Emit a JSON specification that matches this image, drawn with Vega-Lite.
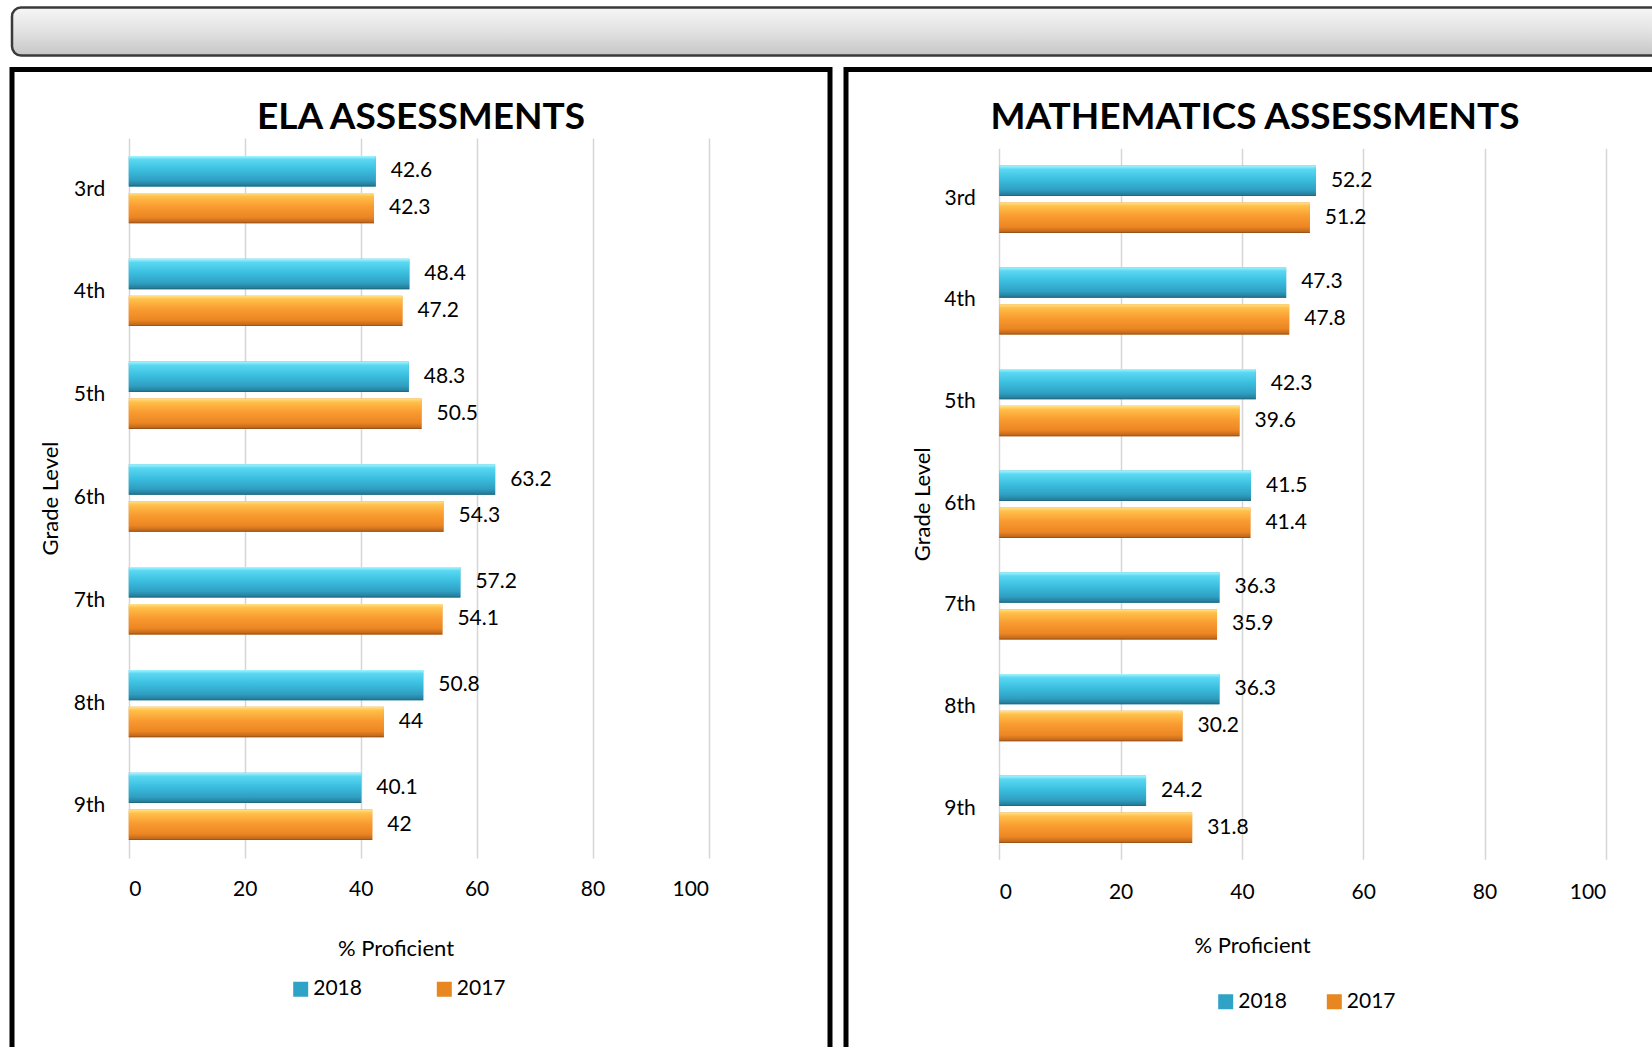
{
  "$schema": "https://vega.github.io/schema/vega-lite/v6.json",
  "padding": {"left": 9, "top": 5.5, "right": 0, "bottom": 0},
  "background": "white",
  "config": {
    "font": "Lato",
    "view": {"stroke": null},
    "axis": {"labelFont": "Lato", "titleFont": "Lato", "labelColor": "#000000", "titleColor": "#000000", "titleFontWeight": "normal", "labelFontSize": 21, "titleFontSize": 22},
    "legend": {"labelFont": "Lato", "labelColor": "#000000", "labelFontSize": 21},
    "title": {"font": "Lato", "fontSize": 37, "fontWeight": "bold", "color": "#000000"}
  },
  "datasets": {
    "ela": [
      {"grade": "3rd", "year": "2018", "value": 42.6}, {"grade": "3rd", "year": "2017", "value": 42.3},
      {"grade": "4th", "year": "2018", "value": 48.4}, {"grade": "4th", "year": "2017", "value": 47.2},
      {"grade": "5th", "year": "2018", "value": 48.3}, {"grade": "5th", "year": "2017", "value": 50.5},
      {"grade": "6th", "year": "2018", "value": 63.2}, {"grade": "6th", "year": "2017", "value": 54.3},
      {"grade": "7th", "year": "2018", "value": 57.2}, {"grade": "7th", "year": "2017", "value": 54.1},
      {"grade": "8th", "year": "2018", "value": 50.8}, {"grade": "8th", "year": "2017", "value": 44},
      {"grade": "9th", "year": "2018", "value": 40.1}, {"grade": "9th", "year": "2017", "value": 42}
    ],
    "math": [
      {"grade": "3rd", "year": "2018", "value": 52.2}, {"grade": "3rd", "year": "2017", "value": 51.2},
      {"grade": "4th", "year": "2018", "value": 47.3}, {"grade": "4th", "year": "2017", "value": 47.8},
      {"grade": "5th", "year": "2018", "value": 42.3}, {"grade": "5th", "year": "2017", "value": 39.6},
      {"grade": "6th", "year": "2018", "value": 41.5}, {"grade": "6th", "year": "2017", "value": 41.4},
      {"grade": "7th", "year": "2018", "value": 36.3}, {"grade": "7th", "year": "2017", "value": 35.9},
      {"grade": "8th", "year": "2018", "value": 36.3}, {"grade": "8th", "year": "2017", "value": 30.2},
      {"grade": "9th", "year": "2018", "value": 24.2}, {"grade": "9th", "year": "2017", "value": 31.8}
    ]
  },
  "spacing": 9,
  "vconcat": [
    {
      "width": 1660,
      "height": 48,
      "view": {
        "stroke": "#3a3a3a",
        "strokeWidth": 2.5,
        "cornerRadius": 9,
        "fill": {"gradient": "linear", "x1": 0, "y1": 0, "x2": 0, "y2": 1, "stops": [{"offset": 0, "color": "#f6f6f6"}, {"offset": 0.5, "color": "#e2e2e2"}, {"offset": 1, "color": "#c6c6c6"}]}
      },
      "data": {"values": [{"t": ""}]},
      "mark": {"type": "text"},
      "encoding": {"text": {"field": "t", "type": "nominal"}}
    },
    {
      "spacing": 10,
      "resolve": {"scale": {"color": "independent"}, "legend": {"color": "independent"}},
      "hconcat": [
        {
          "width": 818,
          "height": 1000,
          "view": {"stroke": "#000000", "strokeWidth": 5},
          "title": {"text": "ELA ASSESSMENTS", "anchor": "middle", "frame": "group", "baseline": "alphabetic", "offset": -96},
          "data": {"name": "ela"},
          "encoding": {
            "y": {
              "field": "grade", "type": "nominal",
              "sort": ["3rd", "4th", "5th", "6th", "7th", "8th", "9th"],
              "scale": {"range": [68.5, 788.5], "paddingInner": 0.345, "paddingOuter": 0.175},
              "axis": {"title": "Grade Level", "orient": "left", "offset": -116.8, "domain": false, "ticks": false, "tickSize": 0, "labelPadding": 24, "titleX": -78.3, "titleBaseline": "middle", "titleAngle": -90}
            },
            "yOffset": {"field": "year", "type": "nominal", "scale": {"domain": ["2018", "2017"], "paddingInner": 0.176}},
            "x": {"field": "value", "type": "quantitative", "scale": {"domain": [0, 100], "range": [116.8, 696.5], "nice": false}}
          },
          "layer": [
            {
              "mark": {"type": "bar"},
              "encoding": {
                "x": {
                  "field": "value", "type": "quantitative",
                  "axis": {"orient": "top", "grid": true, "labels": false, "ticks": false, "domain": false, "title": null, "values": [0, 20, 40, 60, 80, 100], "gridColor": "#d6d6d6", "gridWidth": 1.5}
                },
                "color": {
                  "field": "year", "type": "nominal",
                  "scale": {"domain": ["2018", "2017"], "range": ["#2fa3c6", "#e8861f"]},
                  "legend": {"title": null, "orient": "none", "legendX": 278.2, "legendY": 909, "direction": "horizontal", "symbolType": "square", "symbolSize": 225, "symbolStrokeWidth": 0, "symbolOpacity": 1, "labelOffset": 2, "columnPadding": 71.6, "padding": 0}
                }
              }
            },
            {
              "transform": [{"filter": "datum.year == '2018'"}],
              "mark": {"type": "bar", "fill": {"gradient": "linear", "x1": 0, "y1": 0, "x2": 0, "y2": 1, "stops": [{"offset": 0, "color": "#a6f6ff"}, {"offset": 0.12, "color": "#5ad8f2"}, {"offset": 0.45, "color": "#3bbfe0"}, {"offset": 0.8, "color": "#2f9fc2"}, {"offset": 0.95, "color": "#267f9c"}, {"offset": 1, "color": "#1d5f75"}]}}
            },
            {
              "transform": [{"filter": "datum.year == '2017'"}],
              "mark": {"type": "bar", "fill": {"gradient": "linear", "x1": 0, "y1": 0, "x2": 0, "y2": 1, "stops": [{"offset": 0, "color": "#ffe38a"}, {"offset": 0.12, "color": "#ffc04a"}, {"offset": 0.45, "color": "#f99b30"}, {"offset": 0.8, "color": "#ec8623"}, {"offset": 0.95, "color": "#c46a1c"}, {"offset": 1, "color": "#8a4a16"}]}}
            },
            {
              "mark": {"type": "text", "align": "left", "baseline": "middle", "dx": 15, "fontSize": 21, "color": "#000000", "font": "Lato"},
              "encoding": {
                "x": {
                  "field": "value", "type": "quantitative",
                  "axis": {"orient": "bottom", "grid": false, "offset": -211.5, "values": [0, 20, 40, 60, 80, 100], "labelPadding": 20, "ticks": false, "tickSize": 0, "domain": false, "title": "% Proficient", "titleX": 383.5, "titleY": 90, "titleBaseline": "middle"}
                },
                "text": {"field": "value", "type": "quantitative"}
              }
            }
          ],
          "resolve": {"axis": {"x": "independent"}}
        },
        {
          "width": 818,
          "height": 1000,
          "view": {"stroke": "#000000", "strokeWidth": 5},
          "title": {"text": "MATHEMATICS ASSESSMENTS", "anchor": "middle", "frame": "group", "baseline": "alphabetic", "offset": -96},
          "data": {"name": "math"},
          "encoding": {
            "y": {
              "field": "grade", "type": "nominal",
              "sort": ["3rd", "4th", "5th", "6th", "7th", "8th", "9th"],
              "scale": {"range": [78.8, 789.8], "paddingInner": 0.347, "paddingOuter": 0.17},
              "axis": {"title": "Grade Level", "orient": "left", "offset": -153.3, "domain": false, "ticks": false, "tickSize": 0, "labelPadding": 24, "titleX": -77.3, "titleBaseline": "middle", "titleAngle": -90}
            },
            "yOffset": {"field": "year", "type": "nominal", "scale": {"domain": ["2018", "2017"], "paddingInner": 0.176}},
            "x": {"field": "value", "type": "quantitative", "scale": {"domain": [0, 100], "range": [153.3, 759.8], "nice": false}}
          },
          "layer": [
            {
              "mark": {"type": "bar"},
              "encoding": {
                "x": {
                  "field": "value", "type": "quantitative",
                  "axis": {"orient": "top", "grid": true, "labels": false, "ticks": false, "domain": false, "title": null, "values": [0, 20, 40, 60, 80, 100], "gridColor": "#d6d6d6", "gridWidth": 1.5}
                },
                "color": {
                  "field": "year", "type": "nominal",
                  "scale": {"domain": ["2018", "2017"], "range": ["#2fa3c6", "#e8861f"]},
                  "legend": {"title": null, "orient": "none", "legendX": 369.2, "legendY": 921.5, "direction": "horizontal", "symbolType": "square", "symbolSize": 225, "symbolStrokeWidth": 0, "symbolOpacity": 1, "labelOffset": 2, "columnPadding": 36.6, "padding": 0}
                }
              }
            },
            {
              "transform": [{"filter": "datum.year == '2018'"}],
              "mark": {"type": "bar", "fill": {"gradient": "linear", "x1": 0, "y1": 0, "x2": 0, "y2": 1, "stops": [{"offset": 0, "color": "#a6f6ff"}, {"offset": 0.12, "color": "#5ad8f2"}, {"offset": 0.45, "color": "#3bbfe0"}, {"offset": 0.8, "color": "#2f9fc2"}, {"offset": 0.95, "color": "#267f9c"}, {"offset": 1, "color": "#1d5f75"}]}}
            },
            {
              "transform": [{"filter": "datum.year == '2017'"}],
              "mark": {"type": "bar", "fill": {"gradient": "linear", "x1": 0, "y1": 0, "x2": 0, "y2": 1, "stops": [{"offset": 0, "color": "#ffe38a"}, {"offset": 0.12, "color": "#ffc04a"}, {"offset": 0.45, "color": "#f99b30"}, {"offset": 0.8, "color": "#ec8623"}, {"offset": 0.95, "color": "#c46a1c"}, {"offset": 1, "color": "#8a4a16"}]}}
            },
            {
              "mark": {"type": "text", "align": "left", "baseline": "middle", "dx": 15, "fontSize": 21, "color": "#000000", "font": "Lato"},
              "encoding": {
                "x": {
                  "field": "value", "type": "quantitative",
                  "axis": {"orient": "bottom", "grid": false, "offset": -210.2, "values": [0, 20, 40, 60, 80, 100], "labelPadding": 22, "ticks": false, "tickSize": 0, "domain": false, "title": "% Proficient", "titleX": 406, "titleY": 86, "titleBaseline": "middle"}
                },
                "text": {"field": "value", "type": "quantitative"}
              }
            }
          ],
          "resolve": {"axis": {"x": "independent"}}
        }
      ]
    }
  ]
}
